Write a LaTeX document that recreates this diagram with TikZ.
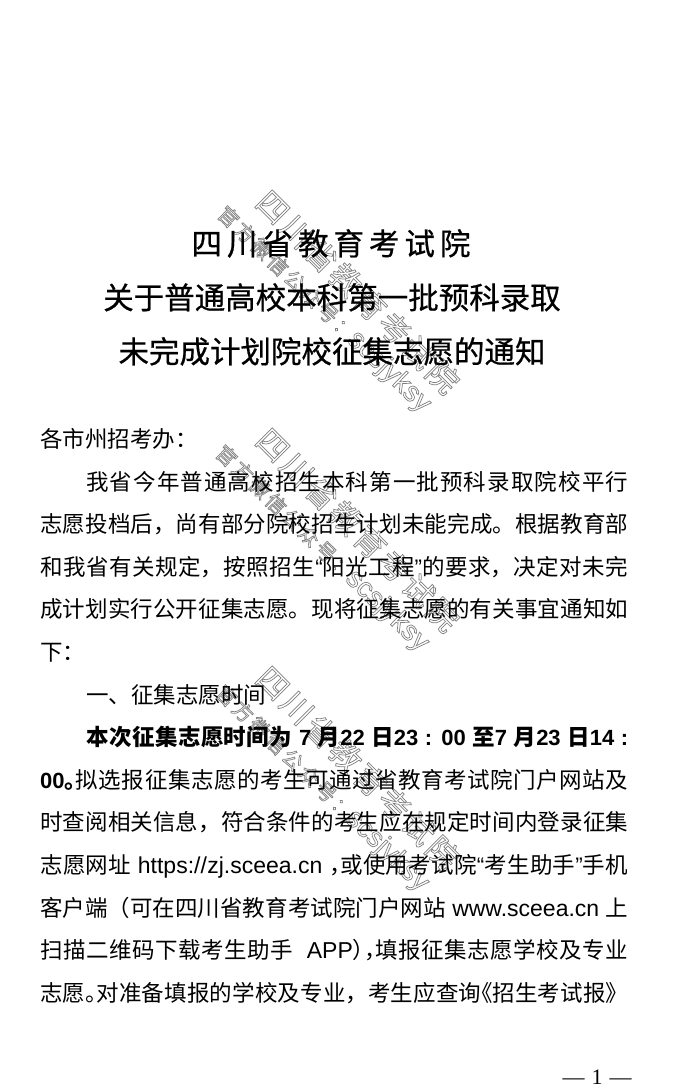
\documentclass[tikz,border=0pt]{standalone}
\usepackage{fontspec}
\setmainfont{Noto Sans CJK SC}
\newfontfamily\titlefont{Noto Sans CJK SC}[FakeBold=0.6]
\newfontfamily\latin{Liberation Sans}
\newfontfamily\romanfont{Liberation Serif}
\XeTeXlinebreaklocale "zh"
\XeTeXlinebreakskip=0pt plus 3pt minus 0.6pt
\definecolor{wmgray}{gray}{0.5}
\newcommand{\latn}[1]{{\latin\fontsize{23pt}{23pt}\selectfont #1}}
\newcommand{\latb}[1]{{\latin\bfseries\fontsize{22pt}{23pt}\selectfont #1}}
\newcommand{\halfl}[1]{\makebox[0.5em][l]{#1}}
\newcommand{\halfr}[1]{\makebox[0.5em][r]{#1}}
\newcommand{\hollow}[1]{\special{pdf:literal direct 1 Tr 0.7 w}#1\special{pdf:literal direct 0 Tr}}
\newcommand{\tgap}{\hspace{5pt}}
\newcommand{\wgap}{\kern3.3pt}
\newcommand{\sgap}{\kern3pt}
\tikzset{
  bodytext/.style={anchor=base west, inner sep=0pt, font=\fontsize{22.5pt}{23pt}\selectfont},
  fullline/.style={bodytext, text width=588pt, align=justify, execute at begin node={\parfillskip=0pt\relax}},
  indline/.style={fullline, text width=542pt},
  titletext/.style={anchor=base, inner sep=0pt, font=\titlefont\fontsize{30.5pt}{30.5pt}\selectfont},
  wmbig/.style={anchor=west, inner sep=0pt, rotate=-45, text=wmgray, font=\fontsize{31pt}{31pt}\selectfont},
  wmsmall/.style={anchor=west, inner sep=0pt, rotate=-44, text=wmgray, font=\fontsize{20pt}{20pt}\selectfont},
}
\begin{document}
\begin{tikzpicture}[x=1pt,y=-1pt]
\useasboundingbox (0,0) rectangle (680,1089);
\fill[white] (0,0) rectangle (680,1089);
% watermarks
\node[wmbig] (wmbigA) at (262,196) {\hollow{四\wgap 川\wgap 省\wgap 教\wgap 育\wgap 考\wgap 试\wgap 院}};
\node[wmsmall] (wmsmallA) at (221,210) {\hollow{官\sgap 方\sgap 微\sgap 信\sgap 公\sgap 众\sgap 号\sgap ：{\latin\fontsize{28pt}{28pt}\selectfont scsjyksy}}};
\node[wmbig] (wmbigB) at (262,434) {\hollow{四\wgap 川\wgap 省\wgap 教\wgap 育\wgap 考\wgap 试\wgap 院}};
\node[wmsmall] (wmsmallB) at (219,449) {\hollow{官\sgap 方\sgap 微\sgap 信\sgap 公\sgap 众\sgap 号\sgap ：{\latin\fontsize{28pt}{28pt}\selectfont scsjyksy}}};
\node[wmbig] (wmbigC) at (262,672) {\hollow{四\wgap 川\wgap 省\wgap 教\wgap 育\wgap 考\wgap 试\wgap 院}};
\node[wmsmall] (wmsmallC) at (219,689) {\hollow{官\sgap 方\sgap 微\sgap 信\sgap 公\sgap 众\sgap 号\sgap ：{\latin\fontsize{28pt}{28pt}\selectfont scsjyksy}}};
% title
\node[titletext] (title1) at (331,255) {四\tgap 川\tgap 省\tgap 教\tgap 育\tgap 考\tgap 试\tgap 院};
\node[titletext] (title2) at (332,309) {关于普通高校本科第一批预科录取};
\node[titletext] (title3) at (332,363) {未完成计划院校征集志愿的通知};
% body
\node[bodytext] (addr) at (40,447) {各市州招考办：};
\node[indline] (para1) at (86,490) {我省今年普通高校招生本科第一批预科录取院校平行};
\node[fullline] (para2) at (40,532) {志愿投档后，尚有部分院校招生计划未能完成。根据教育部};
\node[fullline] (para3) at (40,575) {和我省有关规定，按照招生{\latin “}阳光工程{\latin ”}的要求，决定对未完};
\node[fullline] (para4) at (40,617) {成计划实行公开征集志愿。现将征集志愿的有关事宜通知如};
\node[bodytext] (para5) at (40,660) {下：};
\node[bodytext] (sec1) at (86,703) {一、征集志愿时间};
\node[indline] (time1) at (86,745) {\bfseries 本次征集志愿时间为\latb{\ 7 }月\latb{22 }日\latb{23 : 00 }至\latb{7 }月\latb{23 }日\latb{14 :}};
\node[fullline] (time2) at (40,788) {\latb{00}{\bfseries\halfl{。}}拟选报征集志愿的考生可通过省教育考试院门户网站及};
\node[fullline] (time3) at (40,830) {时查阅相关信息，符合条件的考生应在规定时间内登录征集};
\node[fullline] (time4) at (40,873) {志愿网址\latn{ https://zj.sceea.cn }\halfl{，}或使用考试院{\latin “}考生助手{\latin ”}手机};
\node[fullline] (time5) at (40,916) {客户端（可在四川省教育考试院门户网站\latn{ www.sceea.cn }上};
\node[fullline] (time6) at (40,958) {扫描二维码下载考生助手\latn{\ \ APP}\halfl{）}\halfl{，}填报征集志愿学校及专业};
\node[fullline] (time7) at (40,1001) {志愿\halfl{。}对准备填报的学校及专业，考生应查询\halfr{《}招生考试报》};
% page number
\node[anchor=base, inner sep=0pt, font=\romanfont\fontsize{22pt}{22pt}\selectfont] (pagenum) at (597,1084) {—\hspace{7pt}1\hspace{7pt}—};
\end{tikzpicture}
\end{document}
